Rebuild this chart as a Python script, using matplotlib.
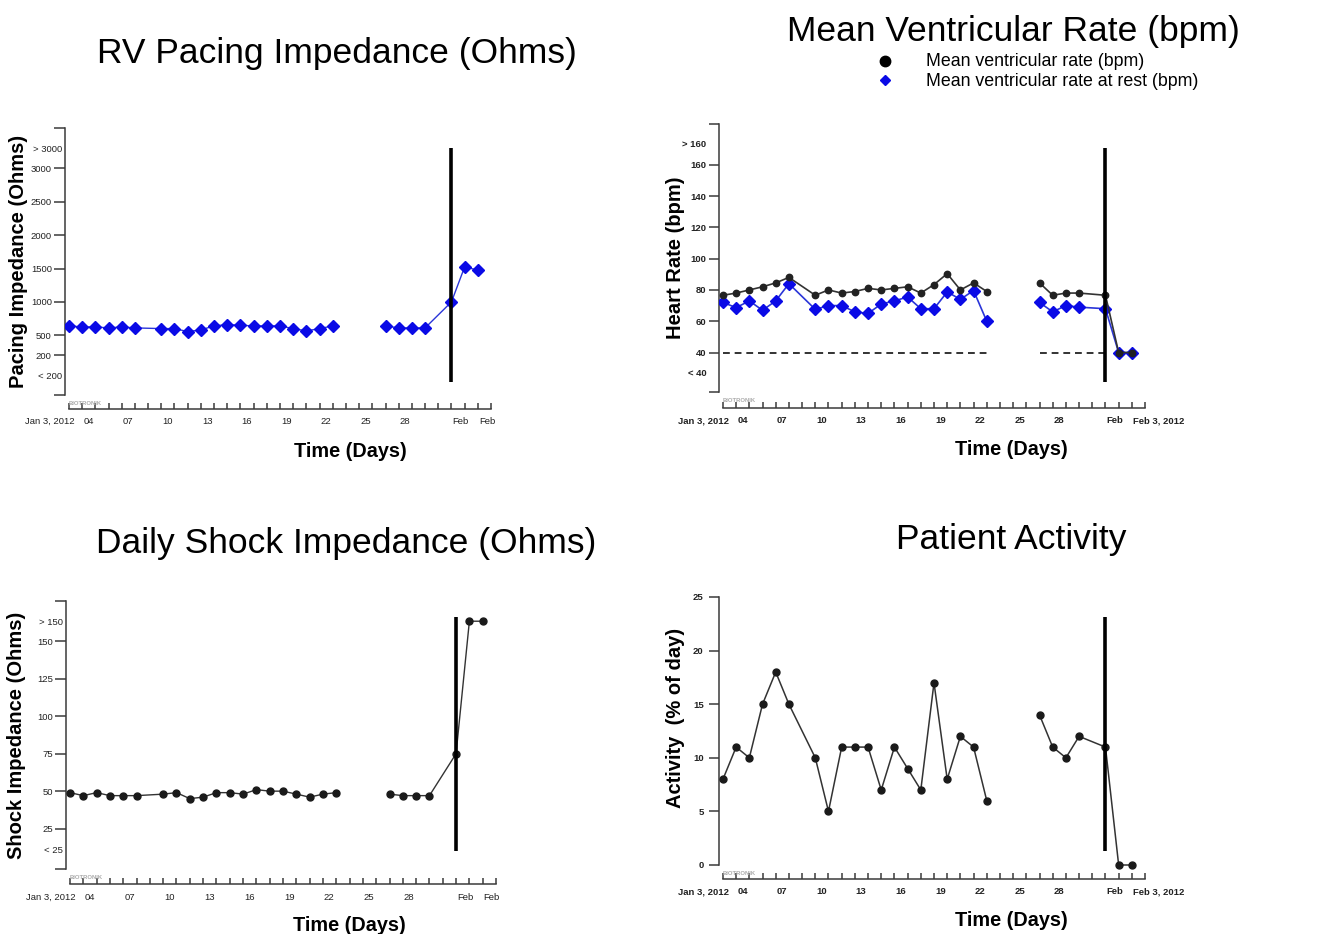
import matplotlib
matplotlib.use("Agg")
import matplotlib.pyplot as plt
import matplotlib.transforms as mtrans
import numpy as np

plt.rcParams['font.family'] = ['Liberation Sans', 'DejaVu Sans']

# ---------------- data ----------------
# day offsets from Jan 3, 2012
days = [0, 1, 2, 3, 4, 5, 7, 8, 9, 10, 11, 12, 13, 14, 15, 16, 17, 18, 19, 20,
        24, 25, 26, 27, 29, 30, 31]
pacing_imp = [640, 625, 625, 610, 625, 610, 600, 600, 555, 580, 640, 660, 650, 640,
              640, 640, 600, 565, 600, 640, 640, 610, 610, 610, 1000, 1525, 1475]
mean_rate = [76.6, 78, 80, 82, 84.5, 88, 76.6, 80, 78, 79, 81, 80, 81, 82, 78, 83.4,
             90.4, 80, 84.5, 79, 84.5, 76.6, 78, 78, 76.6, 40, 40]
rest_rate = [72, 68.7, 73, 67, 73, 84, 67.6, 70, 70, 66, 65, 71, 73, 75.5, 68, 68,
             78.7, 74, 79.6, 60, 72, 66, 70, 69, 68, 40, 40]
shock_imp = [49, 47, 49, 47, 47, 47, 48, 49, 45, 46, 49, 49, 48, 51, 50, 50, 48, 46,
             48, 49, 48, 47, 47, 47, 75, 163.5, 163.5]
activity = [8, 11, 10, 15, 18, 15, 10, 5, 11, 11, 11, 7, 11, 9, 7, 17, 8, 12, 11, 6,
            14, 11, 10, 12, 11, 0, 0]
lower_rate_limit = 40
event_day = 29

x_label_days = [0, 1, 4, 7, 10, 13, 16, 19, 22, 25, 29, 31]
x_labels_a = ["Jan 3, 2012", "04", "07", "10", "13", "16", "19", "22", "25", "28", "Feb", "Feb"]
x_labels_b = ["Jan 3, 2012", "04", "07", "10", "13", "16", "19", "22", "25", "28", "Feb", "Feb 3, 2012"]

pace_ticks = [200, 500, 1000, 1500, 2000, 2500, 3000]
pace_special = [-110, 3300]
pace_special_labels = ["< 200", "> 3000"]
hr_ticks = [40, 60, 80, 100, 120, 140, 160]
hr_special = [27, 173.4]
hr_special_labels = ["< 40", "> 160"]
shock_ticks = [25, 50, 75, 100, 125, 150]
shock_special = [11, 163.5]
shock_special_labels = ["< 25", "> 150"]
act_ticks = [0, 5, 10, 15, 20, 25]

# ---------------- figure ----------------
W, H = 1320, 934
fig = plt.figure(figsize=(W / 100, H / 100), dpi=100)


def add_ax(left, top, bottom, width):
    return fig.add_axes([left / W, 1 - bottom / H, width / W, (bottom - top) / H])


def segments(x, y):
    x = np.asarray(x, float)
    y = np.asarray(y, float)
    br = np.where(np.diff(x) > 2)[0] + 1
    return list(zip(np.split(x, br), np.split(y, br)))


def style_axes(ax, ylim, yticks, special, special_labels, xlabels, bold, spine_out,
               ylen=8, spec_pad=2, ypad=1.5):
    ax.set_xlim(-0.3, 32.3)
    ax.set_ylim(*ylim)
    for s in ["top", "right"]:
        ax.spines[s].set_visible(False)
    for s in ["left", "bottom"]:
        ax.spines[s].set_color("#3a3a3a")
        ax.spines[s].set_linewidth(1.1)
    ax.spines["bottom"].set_position(("outward", spine_out))
    ax.spines["bottom"].set_bounds(0, 32)
    fw = "bold" if bold else "normal"
    tfam = ['Liberation Sans', 'DejaVu Sans']
    # y ticks (with caps at axis ends when not already labelled)
    yt = list(yticks)
    yl = [str(v) for v in yticks]
    if ylim[0] not in yt:
        yt = [ylim[0]] + yt
        yl = [""] + yl
    if ylim[1] not in yt:
        yt = yt + [ylim[1]]
        yl = yl + [""]
    ax.set_yticks(yt)
    ax.set_yticklabels(yl, fontsize=6.8, fontweight=fw, family=tfam, color="#222222")
    ax.tick_params(axis="y", which="major", length=ylen, width=1.1, color="#3a3a3a", pad=ypad)
    if special:
        ax.set_yticks(special, minor=True)
        ax.set_yticklabels(special_labels, minor=True, fontsize=6.8, fontweight=fw,
                           family=tfam, color="#222222")
        ax.tick_params(axis="y", which="minor", length=0, pad=spec_pad)
    # x ticks every day
    ax.set_xticks(range(33))
    lab = [""] * 33
    for d, t in zip(x_label_days, xlabels):
        lab[d] = t
    ax.set_xticklabels(lab, fontsize=6.8, fontweight=fw, family=tfam, color="#222222")
    ax.tick_params(axis="x", direction="in", length=4.5, width=1.1, color="#3a3a3a", pad=6)
    for i, t in enumerate(ax.get_xticklabels()):
        if i == 0:
            t.set_ha("right")
            t.set_transform(t.get_transform() + mtrans.ScaledTranslation(6 / 100, 0, fig.dpi_scale_trans))
        else:
            t.set_ha("left")
            t.set_transform(t.get_transform() + mtrans.ScaledTranslation(1 / 100, 0, fig.dpi_scale_trans))
    tr = mtrans.blended_transform_factory(ax.transData, ax.transAxes)
    ax.text(0, -0.022, "BIOTRONIK", transform=tr, fontsize=4.2, color="#aaaaaa",
            fontweight="bold", va="top", ha="left")


def labels(ax, ylabel, ylx, xly, xlx, yly=0.5):
    ax.set_ylabel(ylabel, fontsize=14.5, fontweight="bold")
    ax.yaxis.set_label_coords(ylx, yly)
    ax.set_xlabel("Time (Days)", fontsize=14.3, fontweight="bold")
    ax.xaxis.set_label_coords(xlx, xly)


def event_line(ax, y0, y1):
    ax.plot([event_day, event_day], [y0, y1], color="black", lw=2.6, zorder=5,
            solid_capstyle="butt")


blue_line = "#2a35d8"
blue_mk = "#0a0ae6"
dark = "#333333"

# ---- Panel 1: RV pacing impedance ----
ax1 = add_ax(65, 128, 395, 430)
style_axes(ax1, (-395, 3605), pace_ticks, pace_special, pace_special_labels,
           x_labels_a, False, 10, ylen=8, spec_pad=2)
for sx, sy in segments(days, pacing_imp):
    ax1.plot(sx, sy, color=blue_line, lw=1.0, marker="D", ms=6.5, mfc=blue_mk,
             mec=blue_mk, zorder=3)
event_line(ax1, -200, 3305)
labels(ax1, "Pacing Impedance (Ohms)", -0.086, -0.176, 0.663)

# ---- Panel 2: heart rate ----
ax2 = add_ax(719, 124, 392, 430)
style_axes(ax2, (14.8, 186), hr_ticks, hr_special, hr_special_labels,
           x_labels_b, True, 11.5, ylen=7, spec_pad=9, ypad=2)
for sx, sy in segments(days, rest_rate):
    ax2.plot(sx, sy, color=blue_line, lw=1.2, marker="D", ms=6, mfc=blue_mk,
             mec=blue_mk, zorder=3)
for sx, sy in segments(days, mean_rate):
    ax2.plot(sx, sy, color=dark, lw=1.2, marker="o", ms=4.6, mfc="#222222",
             mec="#222222", zorder=4)
    ax2.plot([sx[0], min(sx[-1], event_day)], [lower_rate_limit, lower_rate_limit],
             color=dark, lw=1.4, ls=(0, (3.5, 2.5)), zorder=2)
event_line(ax2, 21.2, 170.7)
labels(ax2, "Heart Rate (bpm)", -0.079, -0.179, 0.679)

# ---- Panel 3: shock impedance ----
ax3 = add_ax(66, 601, 869, 434)
style_axes(ax3, (-2, 177), shock_ticks, shock_special, shock_special_labels,
           x_labels_a, False, 11, ylen=8, spec_pad=2)
for sx, sy in segments(days, shock_imp):
    ax3.plot(sx, sy, color=dark, lw=1.0, marker="o", ms=5, mfc="#1a1a1a",
             mec="#1a1a1a", zorder=3)
event_line(ax3, 10, 166.3)
labels(ax3, "Shock Impedance (Ohms)", -0.092, -0.175, 0.654)

# ---- Panel 4: activity ----
ax4 = add_ax(719, 597, 865, 430)
style_axes(ax4, (0, 25), act_ticks, None, None, x_labels_b, True, 10, ylen=7, ypad=4)
for sx, sy in segments(days, activity):
    ax4.plot(sx, sy, color=dark, lw=1.1, marker="o", ms=5, mfc="#1a1a1a",
             mec="#1a1a1a", zorder=3, clip_on=False)
event_line(ax4, 1.3, 23.1)
labels(ax4, "Activity  (% of day)", -0.079, -0.172, 0.679, yly=0.55)

# ---- titles ----
fig.text(337 / W, 1 - 53 / H, "RV Pacing Impedance (Ohms)", fontsize=25.5, ha="center", va="center")
fig.text(1013 / W, 1 - 31 / H, "Mean Ventricular Rate (bpm)", fontsize=25.5, ha="center", va="center")
fig.text(346 / W, 1 - 543 / H, "Daily Shock Impedance (Ohms)", fontsize=25.5, ha="center", va="center")
fig.text(1011 / W, 1 - 540 / H, "Patient Activity", fontsize=25.5, ha="center", va="center")

# ---- legend for heart-rate panel ----
leg_ax = fig.add_axes([0, 0, 1, 1], facecolor="none")
leg_ax.set_xlim(0, W)
leg_ax.set_ylim(H, 0)
leg_ax.axis("off")
leg_ax.plot([885], [61], marker="o", ms=7.5, color="black", ls="none")
leg_ax.plot([885], [80], marker="D", ms=5, color=blue_mk, ls="none")
leg_ax.text(926, 62, "Mean ventricular rate (bpm)", fontsize=12.8, va="center", ha="left")
leg_ax.text(926, 82, "Mean ventricular rate at rest (bpm)", fontsize=12.8, va="center", ha="left")

fig.savefig("out.png", dpi=100)
